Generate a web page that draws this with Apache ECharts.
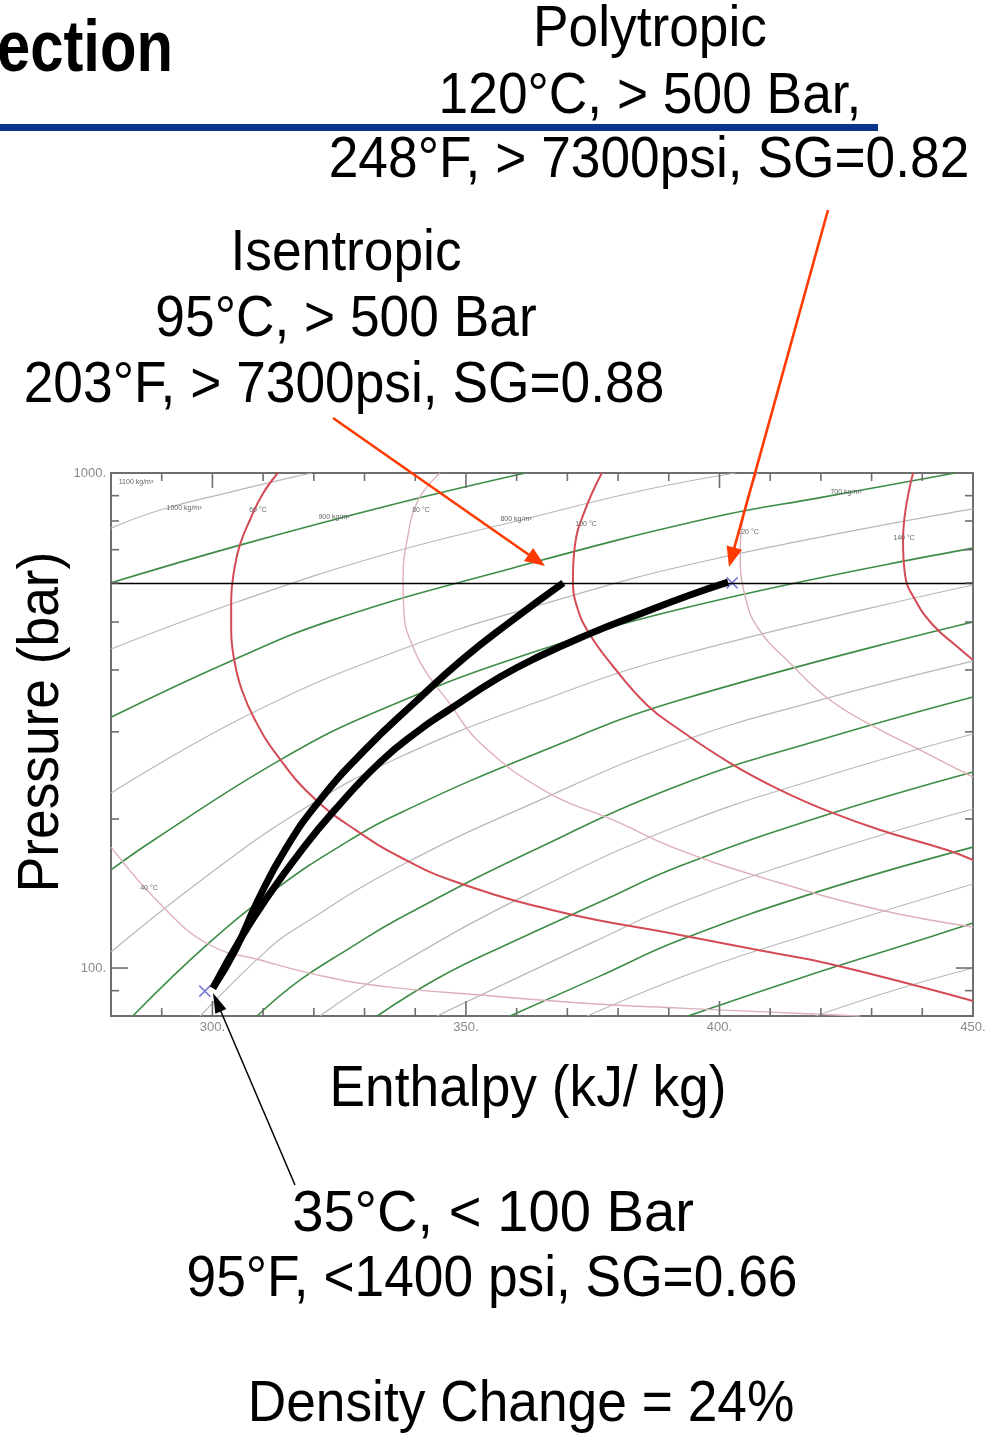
<!DOCTYPE html>
<html>
<head>
<meta charset="utf-8">
<script src="https://cdn.jsdelivr.net/npm/echarts@6/dist/echarts.min.js"></script>
<style>
html, body { margin: 0; padding: 0; background: #fff; }
#chart { width: 993px; height: 1433px; }
</style>
</head>
<body>
<div id="chart"></div>
<script>
var chart = echarts.init(document.getElementById('chart'));

// axes: enthalpy (kJ/kg) and pressure (bar, log)
var hMin = 280, hMax = 450;
var pMin = 80, pMax = 1000;
var hMajor = [300, 350, 400, 450];
var hMinor = [290, 310, 320, 330, 340, 360, 370, 380, 390, 410, 420, 430, 440];
var pMajor = [100, 1000];
var pMinor = [90, 200, 300, 400, 500, 600, 700, 800, 900];

// compression paths [h, P]
var isentropicPath = [[300.1, 91.1], [304.5, 108.7], [309, 137.2], [314.3, 173.1], [321.2, 218.4], [330.1, 276],
    [340, 344.6], [349.4, 420.9], [358.7, 500], [369.2, 600]];
var polytropicPath = [[300.1, 91.1], [305.4, 113.9], [311.4, 141.7], [317.3, 171.5], [323.8, 206.7], [333.1, 260.8],
    [340.9, 303], [346.3, 330.5], [356.7, 387], [364.6, 426.9], [373.9, 471], [384.3, 519], [394.2, 567], [401.7, 602]];
var statePoints = [[298.5, 89.8], [402.5, 600]];
var dischargePressure = 600;

// isentropes (green)
var isen1 = [[280, 600], [305.4, 715], [335, 861], [361.7, 1000]];
var isen2 = [[280, 321], [304.1, 419], [323.8, 505], [359.3, 643], [398.1, 811], [420.4, 894], [446.5, 1000]];
var isen3 = [[280, 157.8], [288.3, 181], [313.3, 263], [333.1, 332], [364.6, 439], [398.1, 549], [450, 705]];
var isen4 = [[284.3, 80], [299.5, 112.8], [313.3, 146.4], [325.2, 176.4], [337, 205.7], [364.6, 273.2], [392.2, 347.8], [450, 500]];
var isen5 = [[308.8, 80], [317.3, 94.6], [327.1, 109.7], [337, 126.2], [362.6, 171.5], [392.2, 234.2], [419.8, 288.8], [450, 352.7]];
var isen6 = [[332.5, 80], [344.9, 95.9], [358.7, 112.3], [376.4, 135.9], [392.2, 160.7], [419.8, 201.9], [450, 248.9]];
var isen7 = [[358.7, 80], [376.4, 96.3], [392.2, 113.9], [419.8, 143], [450, 175.5]];
var isen8 = [[393.8, 80], [415.9, 95.4], [439.6, 113.9], [450, 123.3]];

// isochores (grey)
var dens1 = [[280, 774], [289.7, 842], [303.5, 915], [315.9, 981], [319.6, 1000]];
var dens2 = [[280, 441], [305.4, 551.3], [335, 689.3], [361.7, 807.5], [384.3, 919.7], [403.1, 1000]];
var dens3 = [[280, 225.6], [307.4, 326], [337, 438.9], [364.6, 541.2], [398.1, 667.3], [450, 846]];
var dens4 = [[280, 107.7], [297.6, 149.9], [317.3, 207.6], [337, 266.9], [364.6, 346.2], [392.2, 428.8], [450, 593.9]];
var dens5 = [[297.6, 80], [310.8, 108.7], [317.3, 121.6], [337, 160.7], [364.6, 218.4], [392.2, 286.2], [419.8, 347.8], [450, 417]];
var dens6 = [[321.2, 80], [335, 99.1], [362.6, 141.7], [392.2, 194.5], [419.8, 242], [450, 297]];
var dens7 = [[344.3, 80], [375.1, 112.8], [392.2, 135.3], [419.8, 169.9], [450, 209.5]];
var dens8 = [[373.9, 80], [396.2, 99.1], [419.8, 118.8], [450, 147.8]];
var dens9 = [[418.9, 80], [434.6, 90.3], [450, 100]];

// isotherms
var t40 = [[280, 175.5], [290.3, 132.8], [299.5, 111.3], [309.4, 103.8], [322.6, 95.9], [335, 91.5],
    [352.8, 88.2], [372.5, 85], [392.2, 83], [427.7, 80]];
var t60 = [[312.9, 1000], [309.8, 903], [307.4, 803.7], [305.4, 715], [304.3, 636.8], [303.7, 554.4], [303.7, 481.8],
    [304.3, 419], [305.8, 364.4], [308.4, 317], [312.7, 269.4], [319.8, 221.5], [328.5, 189.2], [337, 167.6],
    [347.5, 149.9], [368.6, 129.8], [392.2, 116.6], [408.6, 108.2], [421.8, 101.9], [450, 85.8]];
var t80 = [[344.9, 1000], [340.6, 882], [338.4, 732], [337.6, 608], [337.8, 516.6], [339.4, 449.2], [342.5, 390.8],
    [346.3, 347.8], [352.8, 284.8], [366, 226.7], [379, 199.1], [392.2, 173.1], [412, 148.5], [431.7, 131], [450, 121]];
var t100 = [[376.8, 1000], [373.5, 842], [371.5, 715], [371.1, 608], [372.1, 528.8], [374.5, 470.8], [378.8, 409.4],
    [385.7, 339.9], [392.2, 302.6], [402.1, 259.5], [412, 228.8], [421.8, 206.7], [431.7, 190], [444.9, 173.1], [450, 165.3]];
var t120 = [[407.4, 1000], [405, 842], [404.1, 683], [405, 567], [407.6, 486.3], [413.9, 413], [421.8, 347.8],
    [431.7, 302.6], [439.6, 275.6], [450, 243.1]];
var t140 = [[438.2, 1000], [436.2, 732], [436.6, 622.2], [438.6, 554], [442.1, 493.1], [446.5, 449.2], [450, 419]];

var FONT = '"Liberation Sans", Arial, sans-serif';

function curve(data, color, width) {
    return {
        type: 'line', data: data, smooth: 0.45, symbol: 'none', silent: true,
        animation: false, z: 1, lineStyle: { color: color, width: width }
    };
}

function ticks(values, dir, len) {
    return {
        type: 'custom', silent: true, animation: false, z: 6, clip: false,
        data: values.map(function (v) { return dir === 'x' ? [v, pMin] : [hMin, v]; }),
        renderItem: function (params, api) {
            var cs = params.coordSys;
            var p = api.coord([api.value(0), api.value(1)]);
            var st = { stroke: '#6e6e6e', lineWidth: 1.6 };
            var a, b;
            if (dir === 'x') {
                a = { x1: p[0], y1: cs.y + cs.height, x2: p[0], y2: cs.y + cs.height - len };
                b = { x1: p[0], y1: cs.y, x2: p[0], y2: cs.y + len };
            } else {
                a = { x1: cs.x, y1: p[1], x2: cs.x + len, y2: p[1] };
                b = { x1: cs.x + cs.width, y1: p[1], x2: cs.x + cs.width - len, y2: p[1] };
            }
            return { type: 'group', children: [
                { type: 'line', shape: a, style: st },
                { type: 'line', shape: b, style: st }
            ] };
        }
    };
}

function text(str, x, y, size, opt) {
    opt = opt || {};
    return {
        type: 'text', x: x, y: y, z: 20, rotation: opt.rotation || 0,
        scaleX: opt.scaleX || 0.935,
        style: {
            text: str, fill: opt.color || '#000',
            font: (opt.weight || 'normal') + ' ' + size + 'px ' + FONT,
            textAlign: opt.align || 'center', textVerticalAlign: 'middle'
        }
    };
}

function tiny(str, x, y) {
    return {
        type: 'text', x: x, y: y, z: 7,
        style: { text: str, fill: '#666', font: '7px ' + FONT, textAlign: 'center', textVerticalAlign: 'middle' }
    };
}

function arrow(x1, y1, x2, y2, color, w, len, half) {
    var dx = x2 - x1, dy = y2 - y1, d = Math.sqrt(dx * dx + dy * dy);
    var ux = dx / d, uy = dy / d;
    var bx = x2 - ux * len, by = y2 - uy * len;
    return [
        { type: 'line', z: 15, shape: { x1: x1, y1: y1, x2: bx + ux * 2, y2: by + uy * 2 },
          style: { stroke: color, lineWidth: w } },
        { type: 'polygon', z: 15,
          shape: { points: [[x2, y2], [bx - uy * half, by + ux * half], [bx + uy * half, by - ux * half]] },
          style: { fill: color } }
    ];
}

var greys = [dens1, dens2, dens3, dens4, dens5, dens6, dens7, dens8, dens9];
var greens = [isen1, isen2, isen3, isen4, isen5, isen6, isen7, isen8];
var pinks = [t40, t80, t120];
var reds = [t60, t100, t140];

var series = [];
greys.forEach(function (d) { series.push(curve(d, '#b8b8b8', 1.2)); });
greens.forEach(function (d) { series.push(curve(d, '#3d8c47', 1.6)); });
pinks.forEach(function (d) { series.push(curve(d, '#ddb0b8', 1.4)); });
reds.forEach(function (d) { series.push(curve(d, '#d44b55', 2)); });
series.push(ticks(hMajor, 'x', 15));
series.push(ticks(hMinor, 'x', 8));
series.push(ticks(pMajor, 'y', 17));
series.push(ticks(pMinor, 'y', 8));
series.push({
    type: 'scatter', data: statePoints, z: 2, silent: true, animation: false,
    symbol: 'path://M0 0L10 10M10 0L0 10', symbolSize: 11,
    itemStyle: { color: 'none', borderColor: '#5b5bd0', borderWidth: 1.6 }
});
series.push({
    type: 'line', data: isentropicPath, smooth: 0.5, symbol: 'none', silent: true, animation: false, z: 3,
    lineStyle: { color: '#000', width: 7, cap: 'butt' },
    markLine: {
        silent: true, animation: false, symbol: ['none', 'none'], label: { show: false },
        lineStyle: { color: '#000', width: 1.3, type: 'solid' },
        data: [{ yAxis: dischargePressure }]
    }
});
series.push({
    type: 'line', data: polytropicPath, smooth: 0.5, symbol: 'none', silent: true, animation: false, z: 3,
    lineStyle: { color: '#000', width: 7, cap: 'butt' }
});

var graphics = [
    text('ection', -3, 51, 72, { weight: 'bold', align: 'left', scaleX: 0.83 }),
    { type: 'rect', z: 20, shape: { x: 0, y: 124, width: 878, height: 7 }, style: { fill: '#0a348c' } },
    text('Polytropic', 650, 30, 57),
    text('120°C, > 500 Bar,', 650, 97, 57),
    text('248°F, > 7300psi, SG=0.82', 649, 161, 57),
    text('Isentropic', 346, 254, 57),
    text('95°C, > 500 Bar', 346, 320, 57),
    text('203°F, > 7300psi, SG=0.88', 344, 386, 57),
    text('Pressure (bar)', 42, 722, 57, { rotation: Math.PI / 2 }),
    text('Enthalpy (kJ/ kg)', 528, 1090, 57),
    text('35°C, < 100 Bar', 493, 1215, 57, { scaleX: 0.985 }),
    text('95°F, <1400 psi, SG=0.66', 492, 1280, 57),
    text('Density Change = 24%', 521, 1405, 57),
    tiny('1100 kg/m³', 136, 482),
    tiny('1000 kg/m³', 184, 508),
    tiny('60 °C', 258, 510),
    tiny('900 kg/m³', 334, 517),
    tiny('80 °C', 421, 510),
    tiny('800 kg/m³', 516, 519),
    tiny('100 °C', 586, 524),
    tiny('120 °C', 748, 532),
    tiny('700 kg/m³', 846, 492),
    tiny('140 °C', 904, 538),
    tiny('40 °C', 149, 888)
];
graphics = graphics
    .concat(arrow(333, 418, 545, 566, '#ff3a00', 2.6, 20, 8))
    .concat(arrow(828, 210, 729, 567, '#ff3a00', 2.6, 20, 8))
    .concat(arrow(295, 1185, 213, 993, '#000', 1.5, 20, 6));

var option = {
    backgroundColor: '#fff',
    animation: false,
    grid: {
        left: 111, top: 473, width: 862, height: 543,
        show: true, borderColor: '#6e6e6e', borderWidth: 2, backgroundColor: '#fff',
        outerBoundsMode: 'none'
    },
    xAxis: {
        type: 'value', min: hMin, max: hMax, interval: 10,
        axisLine: { show: false }, axisTick: { show: false }, splitLine: { show: false },
        axisLabel: {
            color: '#8a8a8a', fontSize: 13, fontFamily: FONT, margin: 5,
            formatter: function (v) { return v % 50 === 0 ? v + '.' : ''; }
        }
    },
    yAxis: {
        type: 'log', logBase: 10, min: pMin, max: pMax,
        axisLine: { show: false }, axisTick: { show: false }, splitLine: { show: false },
        axisLabel: {
            color: '#8a8a8a', fontSize: 13, fontFamily: FONT, margin: 5,
            formatter: function (v) {
                var l = Math.log(v) / Math.LN10;
                return Math.abs(l - Math.round(l)) < 1e-6 ? Math.round(v) + '.' : '';
            }
        }
    },
    series: series,
    graphic: graphics
};
chart.setOption(option);
</script>
</body>
</html>
